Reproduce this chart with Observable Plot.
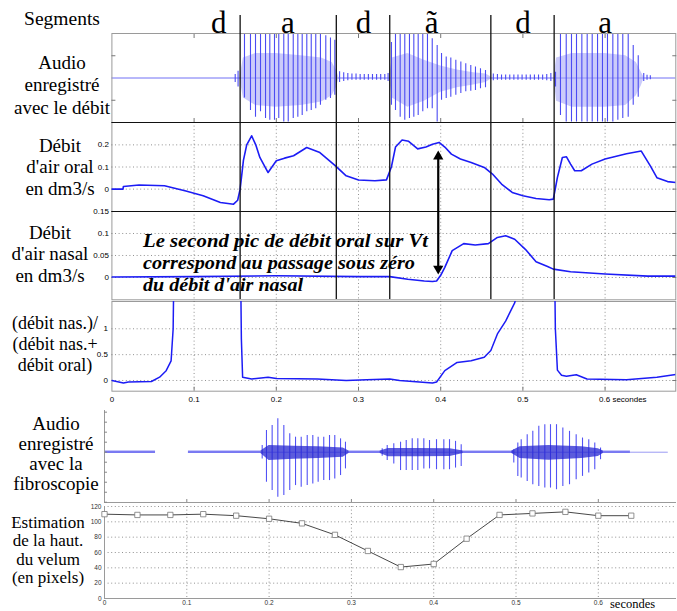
<!DOCTYPE html>
<html><head><meta charset="utf-8">
<script src="https://cdn.jsdelivr.net/npm/d3@7"></script>
<script src="https://cdn.jsdelivr.net/npm/@observablehq/plot@0.6"></script>
<style>
body{margin:0;background:#fff;}
#fig{position:relative;width:677px;height:611px;overflow:hidden;background:#fff;}
</style></head><body><div id="fig"></div><script>
// ---------------- DATA ----------------
const segLabels = ["d", "a", "d", "ã", "d", "a"];
const segCenters = [0.13, 0.214, 0.306, 0.389, 0.5, 0.6];
const cursorTimes = [0.156, 0.273, 0.338, 0.461, 0.538];
const timeTicks = [0, 0.1, 0.2, 0.3, 0.4, 0.5, 0.6];
const gridTimes = [0.1, 0.2, 0.3, 0.4, 0.5, 0.6];
const oralTicks = [0, 0.1, 0.2];
const nasalTicks = [0, 0.05, 0.1, 0.15];
const ratioTicks = [0, 0.5, 1];
const velumTicks = [0, 20, 40, 60, 80, 100, 120];
const audio1Ticks = [-0.5, 0.5];
const audio2Ticks = [-1.2, -0.96, -0.72, -0.48, -0.24, 0, 0.24, 0.48, 0.72, 0.96];

// oral air flow (dm3/s)
const oralT = [0, 0.0135, 0.014, 0.033, 0.064, 0.09, 0.111, 0.132, 0.148, 0.153, 0.156, 0.16, 0.164, 0.17, 0.175, 0.18, 0.19, 0.2, 0.21, 0.221, 0.237, 0.253, 0.272, 0.285, 0.3, 0.32, 0.334, 0.34, 0.345, 0.353, 0.361, 0.372, 0.382, 0.39, 0.398, 0.405, 0.413, 0.424, 0.437, 0.453, 0.463, 0.474, 0.487, 0.5, 0.516, 0.532, 0.537, 0.542, 0.548, 0.553, 0.558, 0.563, 0.571, 0.584, 0.6, 0.626, 0.644, 0.655, 0.663, 0.676, 0.686];
const oralV = [0, 0, 0.012, 0.019, 0.015, -0.008, -0.03, -0.06, -0.068, -0.05, 0, 0.13, 0.2, 0.241, 0.2, 0.143, 0.075, 0.128, 0.14, 0.151, 0.188, 0.165, 0.105, 0.06, 0.041, 0.038, 0.042, 0.1, 0.19, 0.222, 0.216, 0.182, 0.19, 0.203, 0.211, 0.19, 0.158, 0.136, 0.12, 0.098, 0.068, 0.023, -0.015, -0.03, -0.042, -0.048, -0.045, 0.053, 0.143, 0.146, 0.113, 0.083, 0.083, 0.113, 0.136, 0.16, 0.172, 0.105, 0.052, 0.034, 0.03];
// nasal air flow (dm3/s)
const nasalT = [0, 0.1, 0.2, 0.3, 0.338, 0.36, 0.38, 0.39, 0.395, 0.4, 0.405, 0.414, 0.428, 0.442, 0.458, 0.469, 0.479, 0.49, 0.503, 0.516, 0.53, 0.537, 0.558, 0.6, 0.652, 0.686];
const nasalV = [0.001, 0.002, 0.004, 0.002, 0.002, -0.004, -0.008, -0.009, -0.008, 0.005, 0.023, 0.061, 0.077, 0.074, 0.077, 0.091, 0.095, 0.087, 0.064, 0.036, 0.025, 0.019, 0.013, 0.008, 0.003, 0.003];
// nasal / (nasal + oral)
const ratioT = [0, 0.014, 0.02, 0.048, 0.058, 0.066, 0.072, 0.0745, 0.076, 0.156, 0.1575, 0.159, 0.17, 0.19, 0.2, 0.25, 0.285, 0.31, 0.338, 0.35, 0.39, 0.395, 0.405, 0.42, 0.437, 0.453, 0.461, 0.469, 0.479, 0.49, 0.495, 0.538, 0.5395, 0.542, 0.547, 0.553, 0.565, 0.578, 0.626, 0.663, 0.686];
const ratioV = [0, -0.05, -0.03, -0.02, 0.064, 0.19, 0.38, 1.0, 3, 3, 0.8, 0.064, 0.03, 0.064, 0.04, 0.03, 0, 0.013, 0.03, 0, -0.05, -0.03, 0.19, 0.35, 0.38, 0.45, 0.58, 0.9, 1.15, 1.5, 1.8, 3, 1.0, 0.2, 0.1, 0.08, 0.11, 0.03, 0.013, 0.064, 0.115];
// velum height (pixels)
const velumT = [0, 0.04, 0.08, 0.12, 0.16, 0.2, 0.24, 0.28, 0.32, 0.36, 0.4, 0.44, 0.48, 0.52, 0.56, 0.6, 0.64];
const velumV = [110, 109, 109, 110, 108, 104, 98, 83, 62, 41, 45, 78, 109, 111, 113, 108, 108];

// audio recorded with the flow: glottal pulses (normalized amplitude)
const a1PreT = [0.150, 0.1535], a1PreUp = [0.08, 0.15], a1PreDown = [0.1, 0.2];
const a1VowT = [0.1613, 0.1686, 0.1747, 0.1808, 0.1869, 0.1921, 0.1978, 0.2030, 0.2091, 0.2145, 0.2206, 0.2262, 0.2315, 0.2371, 0.2425, 0.2480, 0.2537, 0.2602, 0.2659, 0.2712];
const a1VowUp = [1, 1, 1, 1, 1, 1, 1, 1, 1, 1, 1, 1, 1, 1, 1, 1, 1, 0.95, 0.9, 0.85];
const a1VowDown = [0.45, 0.73, 0.88, 0.76, 0.91, 0.95, 0.95, 0.91, 0.99, 0.99, 0.91, 0.88, 0.84, 0.76, 0.73, 0.69, 0.61, 0.5, 0.46, 0.39];
const a1D1T = [0.277, 0.282, 0.287, 0.292, 0.297, 0.302, 0.307, 0.312, 0.317, 0.322, 0.327, 0.332, 0.336];
const a1D1Up = [0.14, 0.12, 0.1, 0.09, 0.09, 0.08, 0.08, 0.08, 0.08, 0.08, 0.08, 0.08, 0.1];
const a1D1Down = [0.1, 0.08, 0.06, 0.05, 0.05, 0.05, 0.05, 0.05, 0.05, 0.05, 0.05, 0.05, 0.08];
const a1NasT = [0.3401, 0.3450, 0.3507, 0.3563, 0.3620, 0.3673, 0.3726, 0.3782, 0.3839, 0.3897, 0.3957, 0.4010, 0.4067, 0.4123, 0.4184, 0.4245, 0.4305, 0.4366, 0.4423, 0.4484, 0.4545];
const a1NasUp = [0.8, 1, 1, 1, 1, 1, 1, 1, 1, 0.88, 0.73, 0.55, 0.47, 0.45, 0.4, 0.36, 0.32, 0.28, 0.25, 0.21, 0.17];
const a1NasDown = [0.61, 0.73, 0.88, 0.95, 0.91, 0.88, 0.84, 0.76, 0.69, 0.69, 0.99, 0.5, 0.46, 0.43, 0.39, 0.35, 0.31, 0.3, 0.28, 0.24, 0.22];
const a1D2T = [0.464, 0.469, 0.474, 0.479, 0.484, 0.489, 0.494, 0.499, 0.504, 0.509, 0.514, 0.519, 0.524, 0.529, 0.534];
const a1D2Up = [0.09, 0.08, 0.07, 0.07, 0.07, 0.07, 0.07, 0.07, 0.07, 0.07, 0.07, 0.07, 0.07, 0.08, 0.1];
const a1D2Down = [0.06, 0.05, 0.05, 0.05, 0.05, 0.05, 0.05, 0.05, 0.05, 0.05, 0.05, 0.05, 0.05, 0.06, 0.08];
const a1LastT = [0.5397, 0.5457, 0.5527, 0.5591, 0.5652, 0.5717, 0.5782, 0.5843, 0.5908, 0.5968, 0.6029, 0.6094, 0.6155, 0.6215, 0.6281, 0.6342, 0.6403];
const a1LastUp = [0.13, 1, 1, 1, 1, 1, 1, 1, 1, 1, 1, 1, 1, 1, 1, 0.73, 0.5];
const a1LastDown = [0.2, 0.84, 0.99, 0.99, 0.99, 0.99, 0.99, 0.99, 0.99, 0.99, 0.99, 0.99, 0.95, 0.91, 0.88, 0.61, 0.43];
const a1TailT = [0.647, 0.651, 0.655], a1TailUp = [0.1, 0.06, 0.05], a1TailDown = [0.08, 0.05, 0.04];
// dense part of the vowels (envelope)
const a1EnvT = [0.156, 0.16, 0.175, 0.2, 0.23, 0.255, 0.268, 0.273, 0.276, null, 0.338, 0.341, 0.36, 0.38, 0.4, 0.42, 0.44, 0.455, 0.461, null, 0.538, 0.541, 0.56, 0.6, 0.625, 0.638, 0.644, 0.647];
const a1EnvHi = [0.05, 0.45, 0.55, 0.55, 0.5, 0.45, 0.35, 0.18, 0.03, null, 0.05, 0.45, 0.55, 0.4, 0.27, 0.18, 0.12, 0.09, 0.03, null, 0.05, 0.45, 0.55, 0.55, 0.5, 0.35, 0.13, 0.03];
const a1EnvLo = [-0.05, -0.45, -0.62, -0.66, -0.62, -0.54, -0.4, -0.22, -0.03, null, -0.05, -0.45, -0.66, -0.52, -0.32, -0.22, -0.16, -0.1, -0.03, null, -0.05, -0.52, -0.66, -0.66, -0.62, -0.4, -0.18, -0.03];

// audio recorded with the fibroscopy
const a2V1T = [0.1916, 0.1968, 0.2037, 0.2106, 0.2179, 0.2251, 0.2321, 0.2390, 0.2463, 0.2531, 0.2596, 0.2664, 0.2734, 0.2798, 0.2868, 0.2928];
const a2V1Up = [0.16, 0.52, 0.64, 0.8, 0.64, 0.44, 0.36, 0.36, 0.4, 0.4, 0.36, 0.36, 0.4, 0.4, 0.32, 0.24];
const a2V1Down = [0.16, 0.72, 0.92, 1.08, 1.04, 0.92, 0.8, 0.84, 0.8, 0.76, 0.72, 0.68, 0.68, 0.64, 0.56, 0.4];
const a2V2T = [0.3374, 0.3435, 0.3515, 0.3597, 0.3666, 0.3739, 0.3807, 0.3880, 0.3949, 0.4034, 0.4123, 0.4192, 0.4265, 0.4334];
const a2V2Up = [0.08, 0.16, 0.2, 0.24, 0.28, 0.32, 0.32, 0.32, 0.28, 0.3, 0.3, 0.3, 0.26, 0.18];
const a2V2Down = [0.1, 0.2, 0.28, 0.44, 0.44, 0.44, 0.44, 0.4, 0.4, 0.42, 0.42, 0.42, 0.38, 0.34];
const a2V3T = [0.4973, 0.5022, 0.5063, 0.5136, 0.5204, 0.5277, 0.5350, 0.5419, 0.5492, 0.5569, 0.5650, 0.5731, 0.5808, 0.5884, 0.5957, 0.6027];
const a2V3Up = [0.06, 0.22, 0.3, 0.42, 0.5, 0.62, 0.66, 0.66, 0.66, 0.58, 0.5, 0.42, 0.34, 0.3, 0.22, 0.1];
const a2V3Down = [0.26, 0.58, 0.62, 0.7, 0.78, 0.82, 0.86, 0.86, 0.9, 0.82, 0.78, 0.66, 0.58, 0.5, 0.42, 0.18];
const a2EnvT = [0.19, 0.2, 0.23, 0.26, 0.29, 0.297, null, 0.335, 0.345, 0.38, 0.42, 0.436, null, 0.495, 0.505, 0.54, 0.58, 0.6, 0.606];
const a2EnvHi = [0.03, 0.16, 0.14, 0.13, 0.1, 0.03, null, 0.03, 0.09, 0.09, 0.08, 0.03, null, 0.03, 0.13, 0.16, 0.13, 0.08, 0.03];
const a2EnvLo = [-0.03, -0.2, -0.17, -0.15, -0.12, -0.03, null, -0.03, -0.11, -0.11, -0.1, -0.03, null, -0.03, -0.15, -0.19, -0.15, -0.1, -0.03];
const a2NoiseStart = [0, 0.102, 0.296, 0.436, 0.604];
const a2NoiseEnd = [0.062, 0.19, 0.336, 0.497, 0.639];
const a2LineStart = [0, 0.102];
const a2LineEnd = [0.062, 0.685];

// annotation arrow: oral-flow peak -> nasal-flow dip
const arrowTime = 0.397, arrowOral = 0.173, arrowNasal = 0.006;

// left-hand labels
const labelsSegments = ["Segments"];
const labelsAudio1 = ["Audio", "enregistré", "avec le débit"];
const labelsOral = ["Débit", "d'air oral", "en dm3/s"];
const labelsNasal = ["Débit", "d'air nasal", "en dm3/s"];
const labelsRatio = ["(débit nas.)/", "(débit nas.+", "débit oral)"];
const labelsAudio2 = ["Audio", "enregistré", "avec la", "fibroscopie"];
const labelsVelum = ["Estimation", "de la haut.", "du velum", "(en pixels)"];
const noteLines = ["Le second pic de débit oral sur Vt", "correspond au passage sous zéro", "du débit d'air nasal"];

// ---------------- BUILD ----------------
const zip = (T, V) => T.map((t, i) => ({t, v: V[i]}));
const pulses = (T, U, D) => T.map((t, i) => ({t, up: U[i], down: -D[i]}));
const env = (T, H, L) => T.map((t, i) => ({t, hi: H[i], lo: L[i]}));

const oral = zip(oralT, oralV);
const nasal = zip(nasalT, nasalV);
const ratio = zip(ratioT, ratioV);
const velum = zip(velumT, velumV);
const a1Pulses = [].concat(
  pulses(a1PreT, a1PreUp, a1PreDown), pulses(a1VowT, a1VowUp, a1VowDown),
  pulses(a1D1T, a1D1Up, a1D1Down), pulses(a1NasT, a1NasUp, a1NasDown),
  pulses(a1D2T, a1D2Up, a1D2Down), pulses(a1LastT, a1LastUp, a1LastDown),
  pulses(a1TailT, a1TailUp, a1TailDown));
const a1Env = env(a1EnvT, a1EnvHi, a1EnvLo);
const a2Pulses = [].concat(pulses(a2V1T, a2V1Up, a2V1Down), pulses(a2V2T, a2V2Up, a2V2Down), pulses(a2V3T, a2V3Up, a2V3Down));
const a2Env = env(a2EnvT, a2EnvHi, a2EnvLo);
const a2Noise = a2NoiseStart.map((s, i) => ({s, e: a2NoiseEnd[i]}));
const a2Line = a2LineStart.map((s, i) => ({s, e: a2LineEnd[i]}));
const segs = segLabels.map((label, i) => ({label, t: segCenters[i]}));

const BLUE = "#1c1cf5", WAVE = "#4b4bf3", ENV = "#a9a9f6", GRID = "#666", FRAME = "#9a9a9a";
const dotted = {stroke: GRID, strokeOpacity: 0.9, strokeDasharray: "1,2.6", strokeWidth: 0.8};
const fig = document.getElementById("fig");
const sty = top => `position:absolute;left:0;top:${top}px;background:transparent;overflow:visible;font-family:'Liberation Sans',Arial,sans-serif;font-size:8px;`;
const xTop = {domain: [0, 0.686], label: null};
const xBot = {domain: [0, 0.695], label: null};
const TOP = {width: 677, marginLeft: 111.4, marginRight: 1.7};
const BOT = {width: 677, marginLeft: 104, marginRight: 1};
const blank = () => "";
const fmt = d => String(d);
function add(svg) { fig.appendChild(svg); return svg; }

// audio 1
const A1Y = [-1, 1];
add(Plot.plot({...TOP, height: 93, marginTop: 2, marginBottom: 2, x: xTop, y: {domain: A1Y, label: null}, style: sty(30.7),
  marks: [
    Plot.ruleY([0], {stroke: WAVE, strokeWidth: 0.8}),
    Plot.areaY(a1Env, {x: "t", y1: "lo", y2: "hi", fill: ENV, fillOpacity: 0.6, clip: true}),
    Plot.ruleX(a1Pulses, {x: "t", y1: "down", y2: "up", stroke: WAVE, strokeWidth: 1.1, clip: true}),
    Plot.frame({stroke: FRAME}),
    Plot.axisX(gridTimes, {anchor: "top", tickSize: -4, tickFormat: blank, stroke: "#777", label: null}),
    Plot.axisX(gridTimes, {anchor: "bottom", tickSize: -4, tickFormat: blank, stroke: "#777", label: null}),
    Plot.axisY(audio1Ticks, {anchor: "left", tickSize: -4, tickFormat: blank, stroke: "#777", label: null}),
    Plot.axisY(audio1Ticks, {anchor: "right", tickSize: -4, tickFormat: blank, stroke: "#777", label: null})
  ]}));

// oral flow
const ORALY = [-0.101, 0.301];
const oralPlot = add(Plot.plot({...TOP, height: 101, marginTop: 10, marginBottom: 2, x: {...xTop, axis: null}, y: {domain: ORALY, label: null}, style: sty(111.7),
  marks: [
    Plot.frame({stroke: FRAME}),
    Plot.gridX(gridTimes, dotted),
    Plot.gridY(oralTicks, dotted),
    Plot.axisY(oralTicks, {tickSize: 0, tickPadding: 3, tickFormat: fmt, label: null}),
    Plot.axisY(oralTicks, {anchor: "right", tickSize: -4, tickFormat: blank, stroke: "#777", label: null}),
    Plot.line(oral, {x: "t", y: "v", stroke: BLUE, strokeWidth: 1.6, clip: true}),
    Plot.ruleY(ORALY, {stroke: "#111", strokeWidth: 1.2})
  ]}));

// nasal flow
const NASY = [-0.0507, 0.15];
const nasalPlot = add(Plot.plot({...TOP, height: 100.3, marginTop: 10, marginBottom: 2, x: {...xTop, axis: null}, y: {domain: NASY, label: null}, style: sty(200.7),
  marks: [
    Plot.frame({stroke: FRAME}),
    Plot.gridX(gridTimes, dotted),
    Plot.gridY(nasalTicks, dotted),
    Plot.axisY(nasalTicks, {tickSize: 0, tickPadding: 3, tickFormat: fmt, label: null}),
    Plot.axisY(nasalTicks, {anchor: "right", tickSize: -4, tickFormat: blank, stroke: "#777", label: null}),
    Plot.line(nasal, {x: "t", y: "v", stroke: BLUE, strokeWidth: 1.6, clip: true}),
    Plot.ruleY([NASY[1]], {stroke: "#111", strokeWidth: 1.2})
  ]}));

// ratio
const RATY = [-0.207, 1.528];
add(Plot.plot({...TOP, height: 119.7, marginTop: 10, marginBottom: 20, x: xTop, y: {domain: RATY, label: null}, style: sty(291),
  marks: [
    Plot.frame({stroke: FRAME}),
    Plot.gridX(gridTimes, dotted),
    Plot.gridY(ratioTicks, dotted),
    Plot.axisY(ratioTicks, {tickSize: 0, tickPadding: 4, tickFormat: fmt, label: null}),
    Plot.axisY(ratioTicks, {anchor: "right", tickSize: -4, tickFormat: blank, stroke: "#777", label: null}),
    Plot.axisX(timeTicks.slice(0, 6), {tickSize: 0, tickPadding: 5, tickFormat: fmt, label: null}),
    Plot.axisX(timeTicks.slice(6), {tickSize: 0, tickPadding: 5, tickFormat: d => d + " secondes", textAnchor: "start", dx: -6, label: null}),
    Plot.axisX(gridTimes, {anchor: "bottom", tickSize: -4, tickFormat: blank, stroke: "#777", label: null}),
    Plot.line(ratio, {x: "t", y: "v", stroke: BLUE, strokeWidth: 1.5, clip: true})
  ]}));

// overlay: segment labels, cursors, arrow
const oralY = oralPlot.scale("y"), nasalY = nasalPlot.scale("y");
const tipTop = 111.7 + oralY.apply(arrowOral);
const tipBot = 200.7 + nasalY.apply(arrowNasal);
add(Plot.plot({...TOP, height: 299, marginTop: 15, marginBottom: 0, x: {...xTop, axis: null}, y: {type: "identity", axis: null}, style: sty(0),
  marks: [
    Plot.ruleX(cursorTimes, {stroke: "#111", strokeWidth: 1.3}),
    Plot.text(segs, {x: "t", text: "label", frameAnchor: "top", dy: -5, fontSize: 31, fontFamily: "'Liberation Serif','Times New Roman',serif", fill: "#000"}),
    Plot.link([arrowTime], {x1: d => d, x2: d => d, y1: () => tipTop + 8, y2: () => tipBot - 8, stroke: "#000", strokeWidth: 2.2}),
    Plot.dot([arrowTime], {x: d => d, y: () => tipTop + 5.9, symbol: "triangle", r: 3.8, fill: "#000", stroke: null}),
    Plot.dot([arrowTime], {x: d => d, y: () => tipBot - 5.9, symbol: "triangle", r: 3.8, rotate: 180, fill: "#000", stroke: null})
  ]}));

// audio 2
const A2Y = [-1.206, 1];
add(Plot.plot({...BOT, height: 104, marginTop: 10, marginBottom: 2, x: xBot, y: {domain: A2Y, label: null}, style: sty(400),
  marks: [
    Plot.ruleY(a2Line, {x1: "s", x2: "e", y: () => 0, stroke: "#8080f0", strokeWidth: 0.8}),
    Plot.rect(a2Noise, {x1: "s", x2: "e", y1: () => -0.028, y2: () => 0.028, fill: "#5050ee", fillOpacity: 0.7}),
    Plot.ruleX(a2Pulses, {x: "t", y1: "down", y2: "up", stroke: "#5252f5", strokeWidth: 1.1, clip: true}),
    Plot.areaY(a2Env, {x: "t", y1: "lo", y2: "hi", fill: "#2626d0", fillOpacity: 0.75}),
    Plot.ruleX([0], {stroke: FRAME}),
    Plot.ruleY([A2Y[0]], {stroke: FRAME}),
    Plot.axisY(audio2Ticks, {anchor: "left", tickSize: -3, tickFormat: blank, stroke: "#888", label: null}),
    Plot.axisX(gridTimes, {anchor: "bottom", tickSize: -3, tickFormat: blank, stroke: "#888", label: null})
  ]}));

// velum height
add(Plot.plot({...BOT, height: 116, marginTop: 10, marginBottom: 14, x: xBot, y: {domain: [0, 120], label: null}, style: sty(496) + "font-size:6.5px;",
  marks: [
    Plot.gridX(gridTimes, dotted),
    Plot.gridY(velumTicks, dotted),
    Plot.ruleX([0], {stroke: FRAME}),
    Plot.ruleY([0], {stroke: FRAME}),
    Plot.axisY(velumTicks, {tickSize: 0, tickPadding: 3, tickFormat: fmt, fill: "#333", label: null}),
    Plot.axisX(timeTicks, {tickSize: 0, tickPadding: 2, tickFormat: fmt, fill: "#333", label: null}),
    Plot.line(velum, {x: "t", y: "v", stroke: "#333", strokeWidth: 0.9}),
    Plot.dot(velum, {x: "t", y: "v", symbol: "square", r: 3, stroke: "#777", fill: "#fff", strokeWidth: 0.8})
  ]}));

// ---------------- TEXT ----------------
function addText(str, x, y, {size = 18.5, align = "center", css = "", width = null} = {}) {
  const d = document.createElement("div");
  d.textContent = str;
  d.style.cssText = `position:absolute;left:${x}px;top:${y}px;font-family:'Liberation Serif','Times New Roman',serif;font-size:${size}px;line-height:1;white-space:nowrap;color:#000;${css}`;
  fig.appendChild(d);
  const r = d.getBoundingClientRect();
  const sx = width ? width / r.width : 1;
  const tx = align === "center" ? -r.width * sx / 2 : 0;
  d.style.transformOrigin = "0 0";
  d.style.transform = `translate(${tx}px, ${-r.height / 2}px) scaleX(${sx})`;
}
function block(lines, cx, y0, step, opts) { lines.forEach((s, i) => addText(s, cx, y0 + i * step, opts)); }

block(labelsSegments, 62, 19, 0, {size: 19.5});
block(labelsAudio1, 62, 61.5, 22.5, {size: 19});
block(labelsOral, 60, 144.5, 21.5, {size: 19});
block(labelsNasal, 50, 231.5, 21.7, {size: 19});
block(labelsRatio, 55, 323, 21, {size: 18});
block(labelsAudio2, 56, 423, 20, {size: 19});
block(labelsVelum, 48, 521.5, 18.5, {size: 17});
const noteWidths = [285, 272, 160];
noteLines.forEach((s, i) => addText(s, 142.5, 240.5 + i * 22, {size: 18, align: "left", css: "font-style:italic;font-weight:bold;", width: noteWidths[i]}));
addText("secondes", 610, 604, {size: 12.5, align: "left"});
</script></body></html>
